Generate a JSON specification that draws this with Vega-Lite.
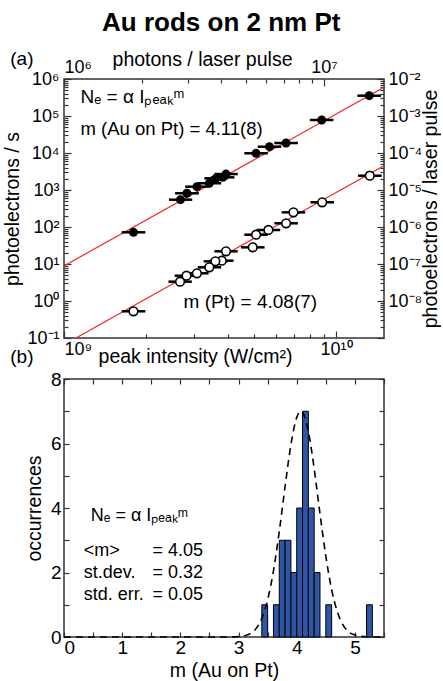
{
  "$schema": "https://vega.github.io/schema/vega-lite/v6.json",
  "padding": {"left": 2, "top": 10, "right": 0, "bottom": 0},
  "autosize": {"type": "pad"},
  "title": {"text": "Au rods on 2 nm Pt", "font": "Liberation Sans", "fontSize": 26, "fontWeight": "bold", "anchor": "middle", "color": "#000", "offset": 12},
  "spacing": 1,
  "config": {
    "font": "Liberation Sans",
    "view": {"stroke": "#333", "strokeWidth": 1.5},
    "axis": {"domain": false, "grid": false, "labelFont": "Liberation Sans", "labelFontSize": 18, "labelColor": "#000", "titleFont": "Liberation Sans", "titleFontSize": 19.5, "titleFontWeight": "normal", "titleColor": "#000", "tickColor": "#333", "tickWidth": 1.2, "labelOverlap": false, "labelBound": false}
  },
  "datasets": {
    "pts": [
      {"sample": "Au on Pt", "I": 1.324e10, "lo": 1.198e10, "hi": 1.463e10, "N": 354000},
      {"sample": "Au on Pt", "I": 8.85e9, "lo": 8.01e9, "hi": 9.78e9, "N": 78000},
      {"sample": "Au on Pt", "I": 6.55e9, "lo": 5.93e9, "hi": 7.24e9, "N": 18600},
      {"sample": "Au on Pt", "I": 5.69e9, "lo": 5.15e9, "hi": 6.29e9, "N": 14800},
      {"sample": "Au on Pt", "I": 5.08e9, "lo": 4.6e9, "hi": 5.61e9, "N": 9820},
      {"sample": "Au on Pt", "I": 3.94e9, "lo": 3.57e9, "hi": 4.35e9, "N": 2700},
      {"sample": "Au on Pt", "I": 3.83e9, "lo": 3.47e9, "hi": 4.23e9, "N": 2200},
      {"sample": "Au on Pt", "I": 3.62e9, "lo": 3.28e9, "hi": 4.0e9, "N": 2070},
      {"sample": "Au on Pt", "I": 3.42e9, "lo": 3.1e9, "hi": 3.78e9, "N": 1520},
      {"sample": "Au on Pt", "I": 3.08e9, "lo": 2.79e9, "hi": 3.4e9, "N": 1230},
      {"sample": "Au on Pt", "I": 2.83e9, "lo": 2.56e9, "hi": 3.13e9, "N": 815},
      {"sample": "Au on Pt", "I": 2.68e9, "lo": 2.43e9, "hi": 2.96e9, "N": 547},
      {"sample": "Au on Pt", "I": 1.8e9, "lo": 1.63e9, "hi": 1.99e9, "N": 71.9},
      {"sample": "Pt", "I": 1.33e10, "lo": 1.204e10, "hi": 1.47e10, "N": 2432},
      {"sample": "Pt", "I": 8.89e9, "lo": 8.05e9, "hi": 9.82e9, "N": 466},
      {"sample": "Pt", "I": 6.97e9, "lo": 6.31e9, "hi": 7.7e9, "N": 249},
      {"sample": "Pt", "I": 6.55e9, "lo": 5.93e9, "hi": 7.24e9, "N": 126},
      {"sample": "Pt", "I": 5.64e9, "lo": 5.1e9, "hi": 6.23e9, "N": 83},
      {"sample": "Pt", "I": 5.08e9, "lo": 4.6e9, "hi": 5.61e9, "N": 61.9},
      {"sample": "Pt", "I": 4.94e9, "lo": 4.47e9, "hi": 5.46e9, "N": 28.2},
      {"sample": "Pt", "I": 3.94e9, "lo": 3.57e9, "hi": 4.35e9, "N": 22},
      {"sample": "Pt", "I": 3.8e9, "lo": 3.44e9, "hi": 4.2e9, "N": 12.3},
      {"sample": "Pt", "I": 3.6e9, "lo": 3.26e9, "hi": 3.98e9, "N": 11.8},
      {"sample": "Pt", "I": 3.42e9, "lo": 3.1e9, "hi": 3.78e9, "N": 8.15},
      {"sample": "Pt", "I": 3.08e9, "lo": 2.79e9, "hi": 3.4e9, "N": 5.61},
      {"sample": "Pt", "I": 2.82e9, "lo": 2.55e9, "hi": 3.12e9, "N": 4.83},
      {"sample": "Pt", "I": 2.67e9, "lo": 2.42e9, "hi": 2.95e9, "N": 3.33},
      {"sample": "Pt", "I": 1.8e9, "lo": 1.63e9, "hi": 1.99e9, "N": 0.527}
    ],
    "fits": [
      {"sample": "Au on Pt", "I": 1e9, "N": 8.91},
      {"sample": "Au on Pt", "I": 1.5e10, "N": 597000},
      {"sample": "Pt", "I": 1e9, "N": 0.066},
      {"sample": "Pt", "I": 1.5e10, "N": 4540}
    ],
    "hist": [
      {"m0": 3.4, "m1": 3.5, "count": 1},
      {"m0": 3.6, "m1": 3.7, "count": 1},
      {"m0": 3.7, "m1": 3.8, "count": 3},
      {"m0": 3.8, "m1": 3.9, "count": 3},
      {"m0": 3.9, "m1": 4.0, "count": 2},
      {"m0": 4.0, "m1": 4.1, "count": 4},
      {"m0": 4.1, "m1": 4.2, "count": 7},
      {"m0": 4.2, "m1": 4.3, "count": 4},
      {"m0": 4.3, "m1": 4.4, "count": 2},
      {"m0": 4.5, "m1": 4.6, "count": 1},
      {"m0": 5.2, "m1": 5.3, "count": 1}
    ],
    "gauss": [
      {"m": 0, "g": 0}, {"m": 1, "g": 0}, {"m": 2, "g": 0}, {"m": 2.8, "g": 0.002},
      {"m": 3.0, "g": 0.012}, {"m": 3.1, "g": 0.038}, {"m": 3.2, "g": 0.105}, {"m": 3.3, "g": 0.26},
      {"m": 3.4, "g": 0.58}, {"m": 3.5, "g": 1.15}, {"m": 3.6, "g": 2.05}, {"m": 3.7, "g": 3.27},
      {"m": 3.8, "g": 4.67}, {"m": 3.9, "g": 5.96}, {"m": 4.0, "g": 6.81}, {"m": 4.07, "g": 7.0},
      {"m": 4.1, "g": 6.97}, {"m": 4.2, "g": 6.37}, {"m": 4.3, "g": 5.22}, {"m": 4.4, "g": 3.82},
      {"m": 4.5, "g": 2.51}, {"m": 4.6, "g": 1.47}, {"m": 4.7, "g": 0.77}, {"m": 4.8, "g": 0.36},
      {"m": 4.9, "g": 0.15}, {"m": 5.0, "g": 0.06}, {"m": 5.1, "g": 0.02}, {"m": 5.3, "g": 0}, {"m": 5.5, "g": 0}
    ]
  },
  "vconcat": [
    {
      "width": 320,
      "height": 259,
      "resolve": {"axis": {"x": "independent", "y": "independent"}},
      "layer": [
        {
          "data": {"name": "fits"},
          "mark": {"type": "line", "color": "#ee2a2a", "strokeWidth": 1.2, "clip": true},
          "encoding": {
            "x": {"field": "I", "type": "quantitative", "scale": {"type": "log", "domain": [1e9, 1.5e10], "nice": false},
              "axis": {"orient": "bottom", "values": [1e9, 1e10], "labelExpr": "datum.value < 5e9 ? '10⁹' : '10¹⁰'", "tickSize": -7, "labelPadding": 9, "labelFlush": true, "title": "peak intensity (W/cm²)", "titleY": 24, "titleBaseline": "alphabetic", "titleX": 131}},
            "y": {"field": "N", "type": "quantitative", "scale": {"type": "log", "domain": [0.1, 1e6], "nice": false},
              "axis": {"orient": "left", "values": [0.1, 1, 10, 100, 1000, 10000, 100000, 1000000], "labelExpr": "['10⁻¹','10⁰','10¹','10²','10³','10⁴','10⁵','10⁶'][round(log(datum.value)/LN10)+1]", "tickSize": -7, "labelPadding": 12, "title": "photoelectrons / s", "titlePadding": 4}},
            "detail": {"field": "sample"}
          }
        },
        {
          "data": {"name": "pts"},
          "mark": {"type": "rule", "color": "#000", "strokeWidth": 2.5},
          "encoding": {
            "x": {"field": "lo", "type": "quantitative", "axis": {"orient": "bottom", "values": [2e9, 3e9, 4e9, 5e9, 6e9, 7e9, 8e9, 9e9], "labels": false, "tickSize": -4, "title": null}},
            "x2": {"field": "hi"},
            "y": {"field": "N", "type": "quantitative", "axis": {"orient": "left", "values": [0.2,0.3,0.4,0.5,0.6,0.7,0.8,0.9,2,3,4,5,6,7,8,9,20,30,40,50,60,70,80,90,200,300,400,500,600,700,800,900,2000,3000,4000,5000,6000,7000,8000,9000,20000,30000,40000,50000,60000,70000,80000,90000,200000,300000,400000,500000,600000,700000,800000,900000], "labels": false, "tickSize": -4, "title": null}}
          }
        },
        {
          "data": {"name": "pts"},
          "transform": [{"filter": "datum.sample == 'Au on Pt'"}],
          "mark": {"type": "point", "shape": "circle", "filled": true, "color": "#000", "size": 80, "opacity": 1},
          "encoding": {
            "x": {"field": "I", "type": "quantitative", "axis": {"orient": "top", "values": [1e9, 9.035e9], "labelExpr": "datum.value < 5e9 ? '10⁶' : '10⁷'", "tickSize": -7, "labelPadding": 10, "title": "photons / laser pulse", "titleY": -14, "titleBaseline": "alphabetic", "titleX": 138}},
            "y": {"field": "N", "type": "quantitative", "axis": {"orient": "right", "values": [0.1, 1, 10, 100, 1000, 10000, 100000, 1000000], "labelExpr": "['','10⁻⁸','10⁻⁷','10⁻⁶','10⁻⁵','10⁻⁴','10⁻³','10⁻²'][round(log(datum.value)/LN10)+1]", "tickSize": -7, "labelPadding": 11, "title": "photoelectrons / laser pulse", "titleAngle": 270, "titleX": 46, "titleY": 129.5, "titleAlign": "center", "titleBaseline": "middle"}}
          }
        },
        {
          "data": {"name": "pts"},
          "transform": [{"filter": "datum.sample == 'Pt'"}],
          "mark": {"type": "point", "shape": "circle", "filled": true, "fill": "#fff", "stroke": "#000", "strokeWidth": 1.6, "size": 75, "opacity": 1},
          "encoding": {
            "x": {"field": "I", "type": "quantitative", "axis": {"orient": "top", "values": [1.94e9, 2.858e9, 3.763e9, 4.658e9, 5.543e9, 6.424e9, 7.3e9, 8.169e9], "labels": false, "tickSize": -4, "title": null}},
            "y": {"field": "N", "type": "quantitative", "axis": {"orient": "right", "values": [0.2,0.3,0.4,0.5,0.6,0.7,0.8,0.9,2,3,4,5,6,7,8,9,20,30,40,50,60,70,80,90,200,300,400,500,600,700,800,900,2000,3000,4000,5000,6000,7000,8000,9000,20000,30000,40000,50000,60000,70000,80000,90000,200000,300000,400000,500000,600000,700000,800000,900000], "labels": false, "tickSize": -4, "title": null}}
          }
        },
        {
          "data": {"values": [{}]},
          "mark": {"type": "text", "text": "Nₑ = α Iₚₑₐₖᵐ", "fontSize": 19, "align": "left", "baseline": "middle", "color": "#000"},
          "encoding": {"x": {"datum": 1.15e9, "type": "quantitative", "axis": null}, "y": {"datum": 320000, "type": "quantitative", "axis": null}}
        },
        {
          "data": {"values": [{}]},
          "mark": {"type": "text", "text": "m (Au on Pt) = 4.11(8)", "fontSize": 18.5, "align": "left", "baseline": "middle", "color": "#000"},
          "encoding": {"x": {"datum": 1.15e9, "type": "quantitative", "axis": null}, "y": {"datum": 44600, "type": "quantitative", "axis": null}}
        },
        {
          "data": {"values": [{}]},
          "mark": {"type": "text", "text": "m (Pt) = 4.08(7)", "fontSize": 19, "align": "left", "baseline": "middle", "color": "#000"},
          "encoding": {"x": {"datum": 2.75e9, "type": "quantitative", "axis": null}, "y": {"datum": 0.92, "type": "quantitative", "axis": null}}
        },
        {
          "data": {"values": [{}]},
          "mark": {"type": "text", "text": "(a)", "fontSize": 19, "align": "center", "baseline": "middle", "color": "#000"},
          "encoding": {"x": {"datum": 7.0e8, "type": "quantitative", "axis": null}, "y": {"datum": 3500000, "type": "quantitative", "axis": null}}
        },
        {
          "data": {"values": [{}]},
          "mark": {"type": "text", "text": "(b)", "fontSize": 19, "align": "center", "baseline": "middle", "color": "#000"},
          "encoding": {"x": {"datum": 7.0e8, "type": "quantitative", "axis": null}, "y": {"datum": 0.031, "type": "quantitative", "axis": null}}
        }
      ]
    },
    {
      "width": 320,
      "height": 258,
      "resolve": {"axis": {"x": "independent", "y": "independent"}},
      "layer": [
        {
          "data": {"name": "hist"},
          "mark": {"type": "bar", "fill": "#2f56a6", "stroke": "#000", "strokeWidth": 1, "opacity": 1},
          "encoding": {
            "x": {"field": "m0", "type": "quantitative", "scale": {"domain": [0, 5.5], "nice": false, "zero": false},
              "axis": {"orient": "bottom", "values": [0,0.5,1,1.5,2,2.5,3,3.5,4,4.5,5,5.5], "labelExpr": "datum.value % 1 == 0 ? format(datum.value, 'd') : ''", "tickSize": -5, "labelPadding": 6, "labelFontSize": 19, "title": "m (Au on Pt)", "titlePadding": 4}},
            "x2": {"field": "m1"},
            "y": {"field": "count", "type": "quantitative", "scale": {"domain": [0, 8], "nice": false},
              "axis": {"orient": "left", "values": [0,1,2,3,4,5,6,7,8], "labelExpr": "datum.value % 2 == 0 ? format(datum.value, 'd') : ''", "tickSize": -5, "labelPadding": 8, "labelFontSize": 19, "title": "occurrences", "titlePadding": 6}},
            "y2": {"datum": 0}
          }
        },
        {
          "data": {"name": "gauss"},
          "mark": {"type": "line", "color": "#000", "strokeWidth": 1.6, "strokeDash": [7, 5], "interpolate": "monotone"},
          "encoding": {
            "x": {"field": "m", "type": "quantitative", "axis": {"orient": "top", "values": [0,0.5,1,1.5,2,2.5,3,3.5,4,4.5,5,5.5], "labels": false, "tickSize": -5, "title": null}},
            "y": {"field": "g", "type": "quantitative", "axis": {"orient": "right", "values": [0,1,2,3,4,5,6,7,8], "labels": false, "tickSize": -5, "title": null}}
          }
        },
        {
          "data": {"values": [{}]},
          "mark": {"type": "text", "text": "Nₑ = α Iₚₑₐₖᵐ", "fontSize": 18, "align": "left", "baseline": "middle", "color": "#000"},
          "encoding": {"x": {"datum": 0.46, "type": "quantitative", "axis": null}, "y": {"datum": 3.75, "type": "quantitative", "axis": null}}
        },
        {
          "data": {"values": [{}]},
          "mark": {"type": "text", "text": "<m>", "fontSize": 18, "align": "left", "baseline": "middle", "color": "#000"},
          "encoding": {"x": {"datum": 0.34, "type": "quantitative", "axis": null}, "y": {"datum": 2.67, "type": "quantitative", "axis": null}}
        },
        {
          "data": {"values": [{}]},
          "mark": {"type": "text", "text": "st.dev.", "fontSize": 18, "align": "left", "baseline": "middle", "color": "#000"},
          "encoding": {"x": {"datum": 0.34, "type": "quantitative", "axis": null}, "y": {"datum": 1.98, "type": "quantitative", "axis": null}}
        },
        {
          "data": {"values": [{}]},
          "mark": {"type": "text", "text": "std. err.", "fontSize": 18, "align": "left", "baseline": "middle", "color": "#000"},
          "encoding": {"x": {"datum": 0.34, "type": "quantitative", "axis": null}, "y": {"datum": 1.3, "type": "quantitative", "axis": null}}
        },
        {
          "data": {"values": [{}]},
          "mark": {"type": "text", "text": "= 4.05", "fontSize": 18, "align": "left", "baseline": "middle", "color": "#000"},
          "encoding": {"x": {"datum": 1.52, "type": "quantitative", "axis": null}, "y": {"datum": 2.67, "type": "quantitative", "axis": null}}
        },
        {
          "data": {"values": [{}]},
          "mark": {"type": "text", "text": "= 0.32", "fontSize": 18, "align": "left", "baseline": "middle", "color": "#000"},
          "encoding": {"x": {"datum": 1.52, "type": "quantitative", "axis": null}, "y": {"datum": 1.98, "type": "quantitative", "axis": null}}
        },
        {
          "data": {"values": [{}]},
          "mark": {"type": "text", "text": "= 0.05", "fontSize": 18, "align": "left", "baseline": "middle", "color": "#000"},
          "encoding": {"x": {"datum": 1.52, "type": "quantitative", "axis": null}, "y": {"datum": 1.3, "type": "quantitative", "axis": null}}
        }
      ]
    }
  ]
}
